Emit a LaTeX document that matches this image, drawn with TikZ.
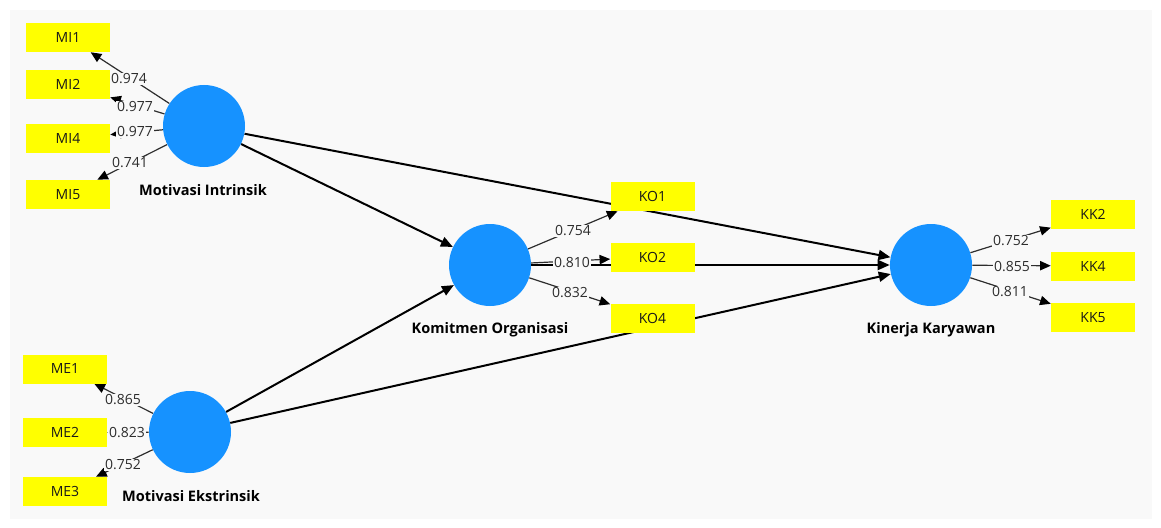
\documentclass[tikz,border=0pt]{standalone}
\usepackage{fontspec}
\setmainfont{Open Sans}
\usetikzlibrary{arrows.meta}
\definecolor{panel}{RGB}{249,249,249}
\definecolor{lv}{RGB}{22,146,255}
\definecolor{ind}{RGB}{255,255,0}
\definecolor{ldg}{RGB}{45,45,45}
\pgfdeclarelayer{bg}
\pgfdeclarelayer{lines}
\pgfsetlayers{bg,lines,main}
\begin{document}
\begin{tikzpicture}[x=0.75pt,y=-0.75pt,
  lvnode/.style={circle,fill=lv,minimum size=61.5pt,inner sep=0pt},
  indbox/.style={rectangle,fill=ind,minimum width=63pt,minimum height=21.75pt,inner sep=0pt,font=\fontsize{10.5}{12}\selectfont,text=black!90},
  lvlabel/.style={font=\bfseries\fontsize{10.9}{12}\selectfont,inner sep=0pt},
  structarrow/.style={line width=1.5pt,-{Triangle[length=9pt,width=7.5pt]}},
  loadarrow/.style={line width=0.9pt,draw=ldg,-{Triangle[length=8pt,width=7pt,color=black,fill=black]}},
  loadlbl/.style={fill=panel,inner sep=0.8pt,font=\fontsize{10.5}{12}\selectfont,text=ldg},
]
\useasboundingbox (0,0) rectangle (1161,528);
\begin{pgfonlayer}{bg}
\fill[white] (0,0) rectangle (1161,528);
\fill[panel] (10,10) rectangle (1152,519);
\end{pgfonlayer}

% latent variables
\node[lvnode] (MI) at (204,126) {};
\node[lvnode] (ME) at (190,432) {};
\node[lvnode] (KO) at (490,265) {};
\node[lvnode] (KK) at (931,265) {};

\node[lvlabel] (MIl) at (203,190) {Motivasi Intrinsik};
\node[lvlabel] (MEl) at (191,496) {Motivasi Ekstrinsik};
\node[lvlabel] (KOl) at (490,330) {Komitmen Organisasi};
\node[lvlabel] (KKl) at (931,330) {Kinerja Karyawan};

% indicators
\node[indbox] (MI1) at (68,37.5) {MI1};
\node[indbox] (MI2) at (68,84.5) {MI2};
\node[indbox] (MI4) at (68,138.5) {MI4};
\node[indbox] (MI5) at (68,194.5) {MI5};
\node[indbox] (ME1) at (65,369) {ME1};
\node[indbox] (ME2) at (65,432.5) {ME2};
\node[indbox] (ME3) at (65,491.5) {ME3};
\node[indbox] (KO1) at (652.5,196.5) {KO1};
\node[indbox] (KO2) at (652.5,257) {KO2};
\node[indbox] (KO4) at (652.5,318) {KO4};
\node[indbox] (KK2) at (1093,214.5) {KK2};
\node[indbox] (KK4) at (1093,266) {KK4};
\node[indbox] (KK5) at (1093,317.5) {KK5};

\begin{pgfonlayer}{lines}
% structural paths
\draw[structarrow] (MI) -- (KO);
\draw[structarrow] (MI) -- (KK);
\draw[structarrow] (ME) -- (KO);
\draw[structarrow] (ME) -- (KK);
\draw[structarrow] (KO) -- (KK);
% loadings
\draw[loadarrow] (MI) -- (MI1);
\draw[loadarrow] (MI) -- (MI2);
\draw[loadarrow] (MI) -- (MI4);
\draw[loadarrow] (MI) -- (MI5);
\draw[loadarrow] (ME) -- (ME1);
\draw[loadarrow] (ME) -- (ME2);
\draw[loadarrow] (ME) -- (ME3);
\draw[loadarrow] (KO) -- (KO1);
\draw[loadarrow] (KO) -- (KO2);
\draw[loadarrow] (KO) -- (KO4);
\draw[loadarrow] (KK) -- (KK2);
\draw[loadarrow] (KK) -- (KK4);
\draw[loadarrow] (KK) -- (KK5);
\end{pgfonlayer}

% loading values
\node[loadlbl] (l1) at (129,79) {0.974};
\node[loadlbl] (l2) at (135,107) {0.977};
\node[loadlbl] (l3) at (135,132) {0.977};
\node[loadlbl] (l4) at (130,163) {0.741};
\node[loadlbl] (l5) at (123,400) {0.865};
\node[loadlbl] (l6) at (127,433) {0.823};
\node[loadlbl] (l7) at (123,465) {0.752};
\node[loadlbl] (l8) at (573,231) {0.754};
\node[loadlbl] (l9) at (572,263) {0.810};
\node[loadlbl] (l10) at (570,293) {0.832};
\node[loadlbl] (l11) at (1011,241) {0.752};
\node[loadlbl] (l12) at (1012,267) {0.855};
\node[loadlbl] (l13) at (1010,292) {0.811};
\end{tikzpicture}
\end{document}
